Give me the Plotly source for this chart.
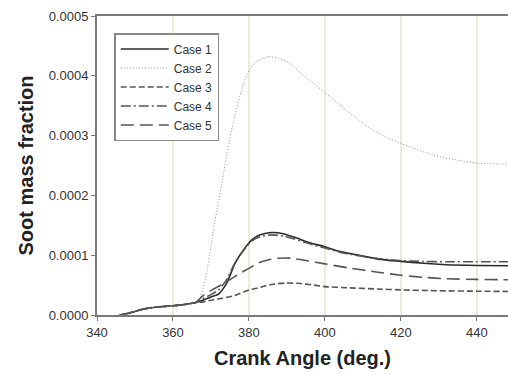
import plotly.graph_objects as go

# Shared early part of every curve (before the cases separate)
common_x = [346, 348, 350, 352, 354, 356, 358, 360, 362, 364, 366]
common_y = [0.0, 0.0000025, 0.000006, 0.0000095, 0.000012, 0.0000135,
            0.0000145, 0.0000155, 0.0000168, 0.0000185, 0.000021]

case1_x = [368, 370, 372, 373, 374.2, 376.4, 378.6, 380.8, 383, 386, 389, 392,
           396, 400, 404, 408, 414, 420, 426, 432, 440, 448.5]
case1_y = [0.000025, 0.00003, 0.000035, 0.000042, 0.000054, 0.000087, 0.000109,
           0.000126, 0.000134, 0.000138, 0.000136, 0.00013, 0.000121, 0.000114,
           0.000106, 0.000101, 0.0000935, 0.0000896, 0.0000865, 0.000084,
           0.0000828, 0.0000824]

case2_x = [367.2, 368.5, 370.3, 371.1, 372.9, 374.5, 376, 378.6, 380.2, 382,
           385.2, 388, 390.9, 392.6, 396, 400, 405, 410.3, 415, 420, 424,
           428.8, 434, 440, 448.5]
case2_y = [0.00003, 0.000059, 0.000126, 0.000159, 0.000221, 0.00028, 0.000326,
           0.000388, 0.00041, 0.000424, 0.000432, 0.000429, 0.000421, 0.00041,
           0.000392, 0.000372, 0.000346, 0.000319, 0.000301, 0.000287, 0.000277,
           0.000267, 0.00026, 0.000254, 0.000252]

case3_x = [368, 370.7, 373, 376, 380, 382.5, 386, 389.6, 393, 397, 400, 406,
           414, 420, 430, 440, 448.5]
case3_y = [0.000022, 0.0000256, 0.000028, 0.000032, 0.000042, 0.0000455,
           0.000051, 0.0000535, 0.000053, 0.00005, 0.0000475, 0.0000455,
           0.0000435, 0.000042, 0.0000405, 0.0000398, 0.0000394]

case4_x = [368, 370, 372, 374, 376.4, 378.6, 380.8, 383, 386, 389, 392, 396,
           400, 404, 408, 414, 420, 426, 432, 440, 448.5]
case4_y = [0.000028, 0.000034, 0.000042, 0.000058, 0.000088, 0.000108, 0.000124,
           0.000131, 0.000134, 0.000132, 0.000127, 0.000119, 0.000112, 0.000105,
           0.0001, 0.0000945, 0.000091, 0.0000895, 0.000089, 0.000089, 0.000089]

case5_x = [368, 370.3, 374, 377.7, 380, 382.5, 385, 388, 391, 395, 400, 406,
           414, 420, 426, 432, 440, 448.5]
case5_y = [0.000033, 0.000042, 0.000055, 0.00007, 0.000078, 0.000087, 0.000092,
           0.000095, 0.000095, 0.000091, 0.0000855, 0.000079, 0.0000715,
           0.0000665, 0.000063, 0.0000606, 0.0000595, 0.000059]

case_names = ["Case 1", "Case 2", "Case 3", "Case 4", "Case 5"]
x_ticks = [340, 360, 380, 400, 420, 440]
y_ticks = [0.0, 0.0001, 0.0002, 0.0003, 0.0004, 0.0005]

series = [
    (case1_x, case1_y, dict(color="#2b2b2b", width=1.6, dash="solid")),
    (case2_x, case2_y, dict(color="#909090", width=1.0, dash="1px,2px")),
    (case3_x, case3_y, dict(color="#555555", width=1.6, dash="6px,3px")),
    (case4_x, case4_y, dict(color="#555555", width=1.6, dash="10px,3px,2px,3px")),
    (case5_x, case5_y, dict(color="#555555", width=1.6, dash="13px,6px")),
]

fig = go.Figure()
for name, (sx, sy, line) in zip(case_names, series):
    fig.add_trace(go.Scatter(
        x=common_x + sx, y=common_y + sy, name=name, mode="lines",
        line=dict(shape="spline", smoothing=0.6, **line),
    ))

font_family = "Liberation Sans, Arial, sans-serif"
fig.update_layout(
    width=508, height=374,
    margin=dict(l=97, r=0, t=16, b=59),
    paper_bgcolor="white", plot_bgcolor="white",
    font=dict(family=font_family, color="#333333"),
    showlegend=True,
    legend=dict(
        x=0.042, y=0.943, xanchor="left", yanchor="top",
        bgcolor="white", bordercolor="#888888", borderwidth=1.5,
        font=dict(size=12, color="#333333"),
        tracegroupgap=0, itemwidth=48,
    ),
    xaxis=dict(
        range=[340, 448.2], tickvals=x_ticks,
        showgrid=True, gridcolor="#ececd8", gridwidth=1.5,
        zeroline=False, showline=True, linecolor="#7a7a7a", linewidth=2,
        mirror=True, ticks="outside", ticklen=4, tickcolor="#7a7a7a",
        tickfont=dict(size=13, color="#333333"),
        title=dict(text="<b>Crank Angle (deg.)</b>", font=dict(size=20, color="#222222"),
                   standoff=12),
    ),
    yaxis=dict(
        range=[0, 0.0005], tickvals=y_ticks, tickformat=".4f",
        showgrid=False, zeroline=False, showline=True, linecolor="#7a7a7a",
        linewidth=2, ticks="outside", ticklen=4, tickcolor="#7a7a7a",
        tickfont=dict(size=13, color="#333333"),
        title=dict(text="<b>Soot mass fraction</b>", font=dict(size=20, color="#222222"),
                   standoff=10),
    ),
)

fig.write_html("out.html")
